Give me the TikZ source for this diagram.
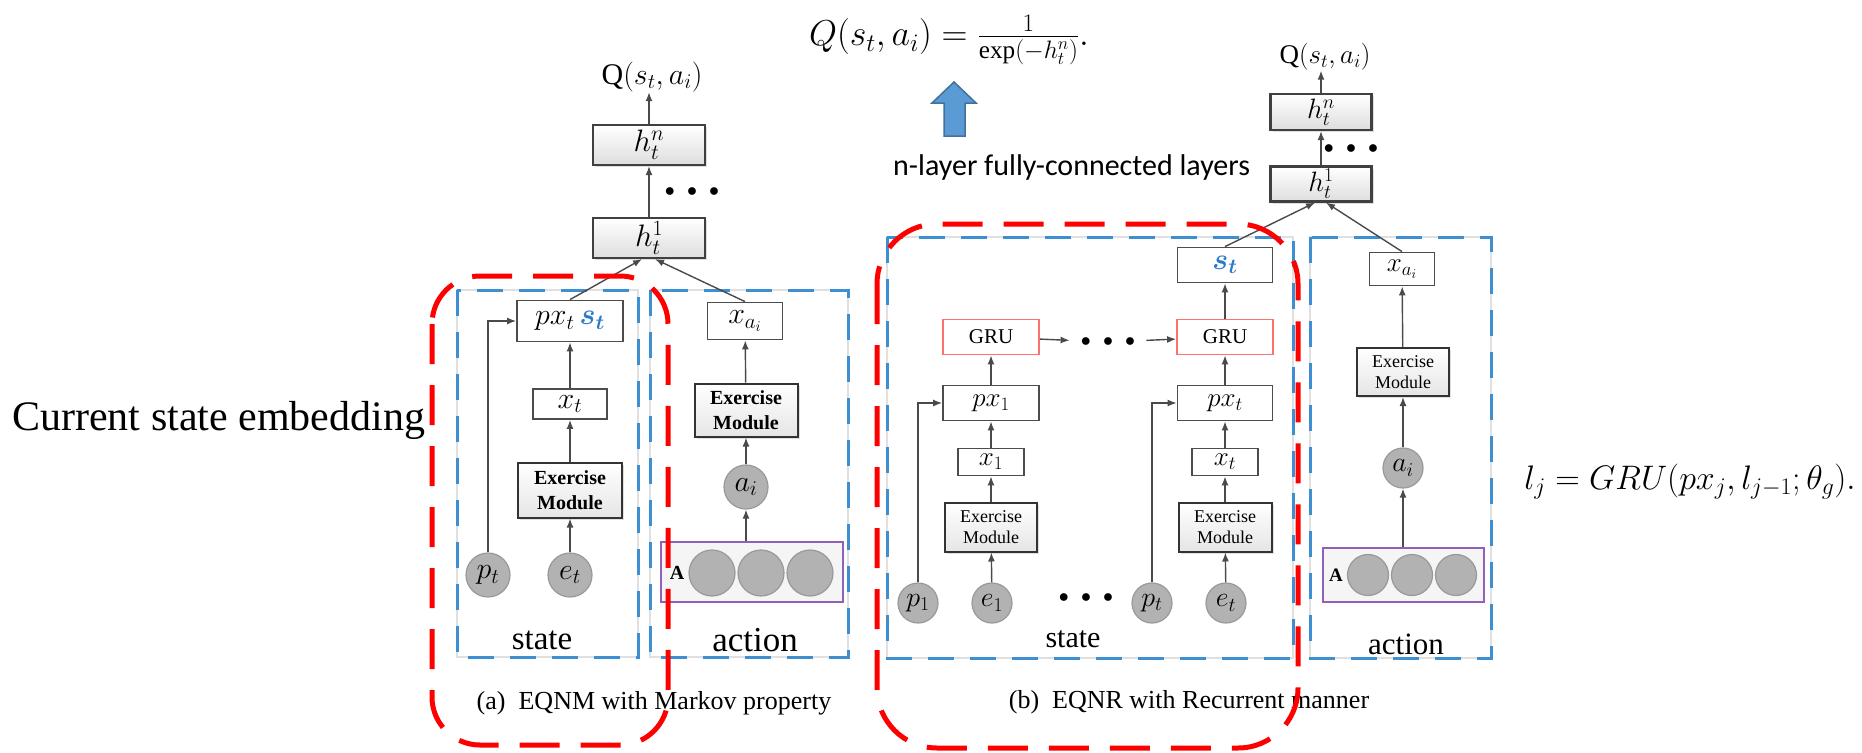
\documentclass[tikz,border=0pt]{standalone}
\usepackage{fix-cm}
\usepackage{amsmath}
\usepackage{fontspec}
\setmainfont{Liberation Serif}
\newfontfamily\calibri{Carlito}
\usetikzlibrary{arrows.meta,shadows}

\definecolor{boxblue}{HTML}{3D8FD1}
\definecolor{stblue}{HTML}{2A7BC8}
\definecolor{grured}{HTML}{FF7070}
\definecolor{actpurple}{HTML}{9160B8}
\definecolor{ballgray}{HTML}{B2B2B2}
\definecolor{wire}{HTML}{4A4A4A}
\definecolor{fatblue}{HTML}{5B9BD5}
\definecolor{fatblueedge}{HTML}{41719C}

\newcommand{\fsz}[2]{\fontsize{#1}{#2}\selectfont}
\newcommand{\tridots}{$\bullet\mkern7mu\bullet\mkern7mu\bullet$}

\begin{document}
\begin{tikzpicture}[x=1pt,y=-1pt]
  \tikzstyle{layer}=[draw=black!75,line width=2.2pt,top color=white,bottom color=black!13,
    minimum width=112,minimum height=40,inner sep=0pt,font={\fsz{31}{31}},
    drop shadow={shadow xshift=2pt,shadow yshift=-2pt,opacity=.25}]
  \tikzstyle{module}=[draw=black!80,line width=2pt,top color=white,bottom color=black!10,
    align=center,inner sep=0pt,drop shadow={shadow xshift=2pt,shadow yshift=-2pt,opacity=.25}]
  \tikzstyle{emb}=[draw=black!70,line width=1.8pt,fill=white,inner sep=0pt,font={\fsz{30}{30}}]
  \tikzstyle{gru}=[draw=grured,line width=1.8pt,fill=white,inner sep=0pt,
    minimum width=96,minimum height=35,font={\fsz{21}{21}}]
  \tikzstyle{ball}=[circle,fill=ballgray,draw=black!40,line width=1.2pt,inner sep=0pt,
    minimum size=44,font={\fsz{30}{30}}]
  \tikzstyle{abox}=[draw=actpurple,line width=2pt,fill=black!4,inner sep=0pt]
  \tikzstyle{flow}=[draw=wire,line width=1.4pt,-{Latex[length=9pt,width=7pt]}]
  \tikzstyle{bluebox}=[draw=boxblue,line width=3pt,dash pattern=on 26pt off 16pt]
  \tikzstyle{greyrule}=[draw=black!12,line width=1.5pt]
  \tikzstyle{redbox}=[draw=red,line width=5pt,dash pattern=on 40pt off 21pt,rounded corners=48pt]
  \tikzstyle{ellip}=[inner sep=0pt,font={\fsz{20}{20}}]
  \tikzstyle{lbl}=[inner sep=0pt]

  \useasboundingbox (0,0) rectangle (1862,752);

  % ---------- (a) EQNM ----------
  \draw[greyrule] (457,290) rectangle (638,657);
  \draw[bluebox] (457,290) rectangle (638,657);
  \draw[greyrule] (650,290) rectangle (848,657);
  \draw[bluebox] (650,290) rectangle (848,657);

  \node[layer] (hna) at (649,145) {$h_t^n$};
  \node[layer] (h1a) at (649,238) {$h_t^1$};
  \node[lbl,font={\fsz{30}{30}}] (qa) at (652,77) {$\mathrm{Q}(s_t,a_i)$};
  \node[ellip] (dotsa) at (692,192) {\tridots};

  % state side
  \node[emb,minimum width=106,minimum height=41] (pxa) at (570,321)
    {$px_t\,\textcolor{stblue}{\boldsymbol{s_t}}$};
  \node[emb,minimum width=74,minimum height=30] (xta) at (570,404) {$x_t$};
  \node[module,minimum width=104,minimum height=55,font={\fsz{20}{25}\bfseries}] (ema)
    at (570,490) {Exercise\\Module};
  \node[ball] (pta) at (488,575) {$p_t$};
  \node[ball] (eta) at (570,575) {$e_t$};
  \node[lbl,font={\fsz{33}{33}}] (statea) at (542,640) {state};

  % action side
  \node[emb,minimum width=75,minimum height=37] (xaa) at (745,321) {$x_{a_i}$};
  \node[module,minimum width=103,minimum height=53,font={\fsz{20}{25}\bfseries}] (emaa)
    at (746,410) {Exercise\\Module};
  \node[ball] (aia) at (746,487) {$a_i$};
  \node[abox,minimum width=182,minimum height=60] (seta) at (752,572) {};
  \node[lbl,font={\fsz{20}{20}\bfseries}] (la) at (677,573) {A};
  \foreach \cx/\k in {712/1,761/2,810/3}
    \node[ball,minimum size=46] (ca\k) at (\cx,573) {};
  \node[lbl,font={\fsz{35}{35}}] (actiona) at (755,640) {action};
  \node[lbl,font={\fsz{26}{26}}] (capa) at (654,703) {(a)\ \ EQNM with Markov property};

  \draw[flow] (eta) -- (ema);
  \draw[flow] (ema) -- (xta);
  \draw[flow] (xta) -- (pxa);
  \draw[flow] (pta) |- (pxa);
  \draw[flow] (pxa.north) -- ([xshift=-7pt]h1a.south);
  \draw[flow] (xaa.north) -- ([xshift=6pt]h1a.south);
  \draw[flow] (h1a) -- (hna);
  \draw[flow] (hna) -- (hna.north |- qa.south);
  \draw[flow] (seta.north -| aia) -- (aia);
  \draw[flow] (aia) -- (emaa);
  \draw[flow] (emaa) -- (xaa);

  % ---------- (b) EQNR ----------
  \draw[greyrule] (887,237) rectangle (1293,658);
  \draw[bluebox] (887,237) rectangle (1293,658);
  \draw[greyrule] (1310,237) rectangle (1491,658);
  \draw[bluebox] (1310,237) rectangle (1491,658);

  \node[layer,minimum width=101,minimum height=36,font={\fsz{28}{28}}] (hnb) at (1321,112) {$h_t^n$};
  \node[layer,minimum width=101,minimum height=35,font={\fsz{28}{28}}] (h1b) at (1321,184) {$h_t^1$};
  \node[lbl,font={\fsz{27}{27}}] (qb) at (1325,57) {$\mathrm{Q}(s_t,a_i)$};
  \node[ellip] (dotsb) at (1351,149) {\tridots};

  % recurrent state
  \node[emb,minimum width=95,minimum height=35] (stb) at (1225,265)
    {$\textcolor{stblue}{\boldsymbol{s_t}}$};
  \node[gru] (gru1) at (991,337) {GRU};
  \node[gru] (grut) at (1225,337) {GRU};
  \node[ellip,inner xsep=11pt] (dotsg) at (1108,342) {\tridots};
  \node[emb,minimum width=96,minimum height=35,font={\fsz{27}{27}}] (px1b) at (991,403) {$px_1$};
  \node[emb,minimum width=95,minimum height=35,font={\fsz{27}{27}}] (pxtb) at (1225,403) {$px_t$};
  \node[emb,minimum width=66,minimum height=27,font={\fsz{27}{27}}] (x1b) at (991,462) {$x_1$};
  \node[emb,minimum width=66,minimum height=27,font={\fsz{27}{27}}] (xtb) at (1225,462) {$x_t$};
  \node[module,minimum width=92,minimum height=49,font={\fsz{18}{21}}] (em1b)
    at (991,527) {Exercise\\Module};
  \node[module,minimum width=93,minimum height=49,font={\fsz{18}{21}}] (emtb)
    at (1225,527) {Exercise\\Module};
  \node[ball,minimum size=40,font={\fsz{28}{28}}] (p1b) at (918,603) {$p_1$};
  \node[ball,minimum size=40,font={\fsz{28}{28}}] (e1b) at (992,603) {$e_1$};
  \node[ellip] (dotss) at (1086,598) {\tridots};
  \node[ball,minimum size=40,font={\fsz{28}{28}}] (ptb) at (1152,603) {$p_t$};
  \node[ball,minimum size=40,font={\fsz{28}{28}}] (etb) at (1226,603) {$e_t$};
  \node[lbl,font={\fsz{30}{30}}] (stateb) at (1073,639) {state};

  % action side
  \node[emb,minimum width=65,minimum height=33,font={\fsz{27}{27}}] (xab) at (1402,269) {$x_{a_i}$};
  \node[module,minimum width=92,minimum height=48,font={\fsz{18}{21}}] (emab)
    at (1403,372) {Exercise\\Module};
  \node[ball,minimum size=40,font={\fsz{28}{28}}] (aib) at (1403,468) {$a_i$};
  \node[abox,minimum width=161,minimum height=54] (setb) at (1403.5,575) {};
  \node[lbl,font={\fsz{19}{19}\bfseries}] (lb) at (1336,575) {A};
  \foreach \cx/\k in {1368/1,1412/2,1456/3}
    \node[ball,minimum size=41] (cb\k) at (\cx,575) {};
  \node[lbl,font={\fsz{31}{31}}] (actionb) at (1406,644) {action};
  \node[lbl,font={\fsz{26}{26}}] (capb) at (1189,702) {(b)\ \ EQNR with Recurrent manner};

  \draw[flow] (e1b) -- (em1b);
  \draw[flow] (em1b) -- (x1b);
  \draw[flow] (x1b) -- (px1b);
  \draw[flow] (px1b) -- (gru1);
  \draw[flow] (p1b) |- (px1b);
  \draw[flow] (etb) -- (emtb);
  \draw[flow] (emtb) -- (xtb);
  \draw[flow] (xtb) -- (pxtb);
  \draw[flow] (pxtb) -- (grut);
  \draw[flow] (ptb) |- (pxtb);
  \draw[flow] (gru1) -- (dotsg);
  \draw[flow] (dotsg) -- (grut);
  \draw[flow] (grut) -- (stb);
  \draw[flow] (stb.north) -- ([xshift=-6pt]h1b.south);
  \draw[flow] (xab.north) -- ([xshift=5pt]h1b.south);
  \draw[flow] (h1b) -- (hnb);
  \draw[flow] (hnb) -- (hnb.north |- qb.south);
  \draw[flow] (setb.north -| aib) -- (aib);
  \draw[flow] (aib) -- (emab);
  \draw[flow] (emab) -- (xab);

  % ---------- notes ----------
  \node[lbl,font={\fsz{36}{36}}] (qform) at (949,40) {$Q(s_t,a_i)=\frac{1}{\exp(-h_t^n)}.$};
  \draw[fill=fatblue,draw=fatblueedge,line width=1.5pt]
    (954,82) -- (976,103) -- (965,103) -- (965,136) -- (944,136) -- (944,103) -- (932,103) -- cycle;
  \node[lbl,font={\calibri\fsz{30}{30}},anchor=base west] (fcl) at (893,175) {n-layer fully-connected layers};
  \node[lbl,font={\fsz{42}{42}},anchor=base west] (cse) at (12,430) {Current state embedding};
  \node[lbl,font={\fsz{34}{34}}] (gruform) at (1690,482) {$l_j=GRU(px_j,l_{j-1};\theta_g).$};

  % highlighted parts
  \draw[redbox] (432,276) rectangle (668,745);
  \draw[redbox,rounded corners=60pt] (877,224) rectangle (1298,748);
\end{tikzpicture}
\end{document}
